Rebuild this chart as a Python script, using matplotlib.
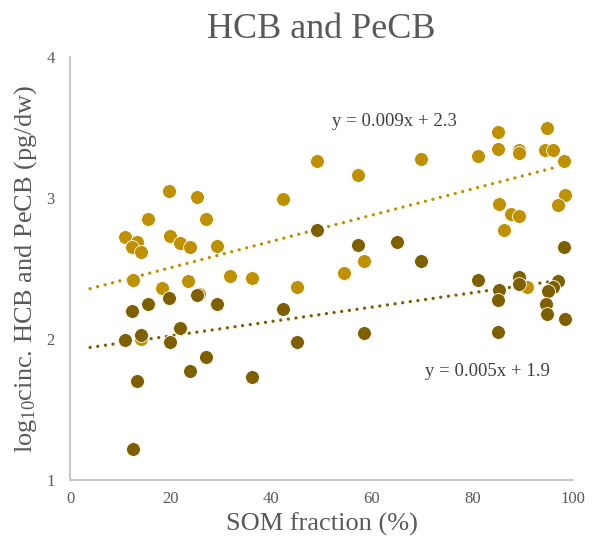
import numpy as np
import matplotlib
matplotlib.use("Agg")
import matplotlib.pyplot as plt

# HCB (upper, gold) and PeCB (lower, dark) vs SOM fraction
hcb_som = [11.0, 13.3, 12.3, 14.2, 15.6, 19.7, 25.2, 27.0, 19.9, 21.9, 23.9, 29.2,
           31.8, 36.2, 12.5, 23.5, 18.3, 25.7, 14.1, 49.2, 69.8, 57.3, 42.4, 58.4,
           54.5, 45.2, 85.0, 94.9, 81.2, 85.0, 89.3, 89.3, 94.4, 96.1, 98.2, 98.4,
           97.0, 85.3, 87.7, 89.3, 86.3, 90.9]
hcb_log = [2.72, 2.69, 2.65, 2.62, 2.85, 3.05, 3.01, 2.85, 2.73, 2.68, 2.65, 2.66,
           2.45, 2.43, 2.42, 2.41, 2.36, 2.32, 2.00, 3.26, 3.28, 3.16, 2.99, 2.55,
           2.47, 2.37, 3.47, 3.50, 3.30, 3.35, 3.34, 3.32, 3.34, 3.34, 3.26, 3.02,
           2.95, 2.96, 2.89, 2.87, 2.77, 2.37]

pecb_som = [12.4, 15.6, 19.7, 25.2, 29.2, 21.9, 10.9, 14.2, 19.9, 27.0, 23.9, 36.2,
            13.3, 12.5, 49.2, 57.3, 65.1, 69.8, 42.4, 45.2, 58.4, 98.2, 81.2, 89.3,
            89.3, 85.3, 85.0, 97.0, 96.1, 95.1, 94.6, 94.9, 98.4, 85.0]
pecb_log = [2.20, 2.25, 2.29, 2.31, 2.25, 2.08, 1.99, 2.03, 1.98, 1.87, 1.77, 1.73,
            1.70, 1.22, 2.77, 2.67, 2.69, 2.55, 2.21, 1.98, 2.04, 2.65, 2.42, 2.44,
            2.39, 2.35, 2.28, 2.41, 2.37, 2.34, 2.25, 2.18, 2.14, 2.05]

# trend lines (slope, intercept) and their x span
hcb_trend = (0.0093, 2.32)
pecb_trend = (0.0051, 1.92)
trend_span = [4, 97]
hcb_eq = "y = 0.009x + 2.3"
pecb_eq = "y = 0.005x + 1.9"

GOLD = "#BF9000"
DARK = "#7F6000"
TEXT = "#595959"

plt.rcParams["font.family"] = ["Liberation Serif", "DejaVu Serif"]
plt.rcParams["mathtext.fontset"] = "custom"
plt.rcParams["mathtext.rm"] = "Liberation Serif"
plt.rcParams["mathtext.it"] = "Liberation Serif:italic"

fig = plt.figure(figsize=(6.02, 5.43), dpi=100)
ax = fig.add_axes([0.1163, 0.116, 0.8355, 0.779])

dots = (0, (0.01, 2.3))
xs = np.array(trend_span)
ax.plot(xs, hcb_trend[0] * xs + hcb_trend[1], color=GOLD, lw=2.4,
        linestyle=dots, dash_capstyle="round", zorder=2)
ax.plot(xs, pecb_trend[0] * xs + pecb_trend[1], color=DARK, lw=2.4,
        linestyle=dots, dash_capstyle="round", zorder=2)

ax.scatter(hcb_som, hcb_log, s=100, color=GOLD, edgecolors="white", linewidths=0.6, zorder=3)
ax.scatter(pecb_som, pecb_log, s=100, color=DARK, edgecolors="white", linewidths=0.6, zorder=4)

# equation labels
ax.text(64.6, 3.54, hcb_eq, fontsize=13.5, color="#404040", ha="center", va="center")
ax.text(82.9, 1.77, pecb_eq, fontsize=13.5, color="#404040", ha="center", va="center")

ax.set_xlim(0, 100)
ax.set_ylim(1, 4)
ax.set_xticks([0, 20, 40, 60, 80, 100])
ax.set_yticks([1, 2, 3, 4])
ax.tick_params(length=0, labelsize=12, labelcolor=TEXT)
ax.tick_params(axis="y", pad=11)
ax.tick_params(axis="x", pad=8)
for side in ["top", "right"]:
    ax.spines[side].set_visible(False)
for side in ["left", "bottom"]:
    ax.spines[side].set_color("#C8C8C8")
    ax.spines[side].set_linewidth(1.5)

ax.set_title("HCB and PeCB", fontsize=26, color=TEXT, pad=14)
ax.set_xlabel("SOM fraction (%)", fontsize=19, color=TEXT, labelpad=4)
ax.set_ylabel(r"log$_\mathrm{10}$cinc. HCB and PeCB (pg/dw)", fontsize=19, color=TEXT, labelpad=5)

fig.savefig("out.png", dpi=100)
